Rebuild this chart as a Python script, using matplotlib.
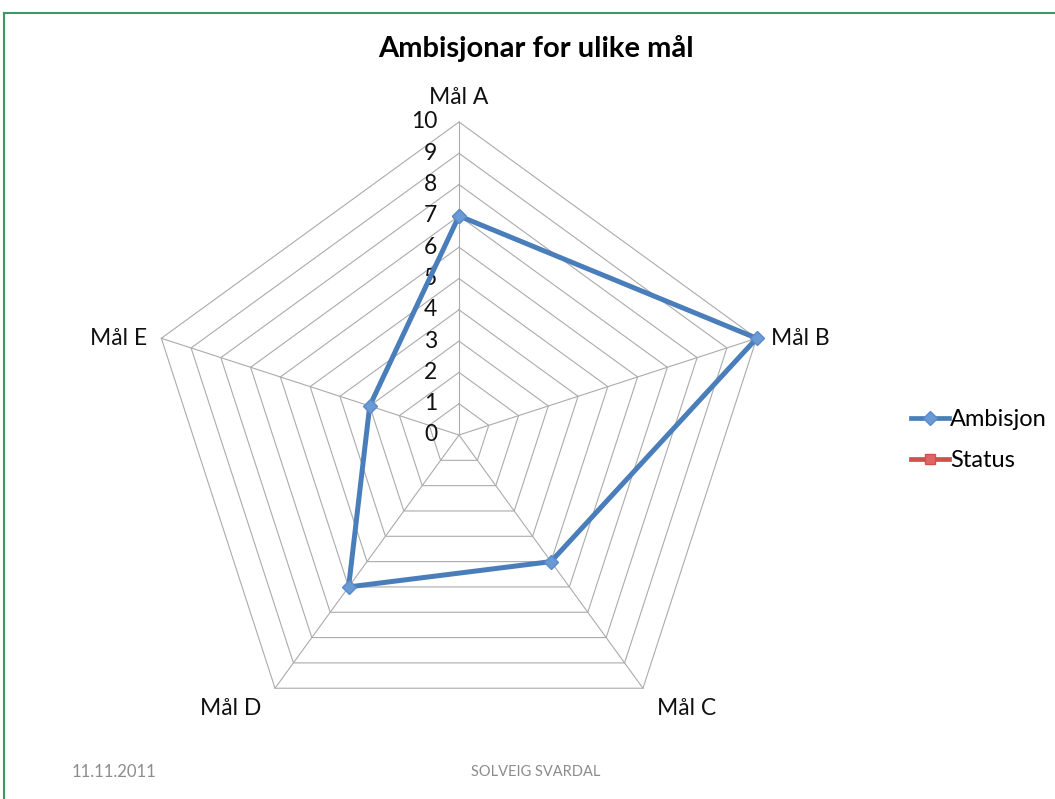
import numpy as np
import matplotlib
matplotlib.use("Agg")
import matplotlib.pyplot as plt
from matplotlib.lines import Line2D

categories = ["Mål A", "Mål B", "Mål C", "Mål D", "Mål E"]
ambisjon = [7, 10, 5, 6, 3]
status = []
ticks = list(range(0, 11))
title = "Ambisjonar for ulike mål"
footer_left = "11.11.2011"
footer_mid = "SOLVEIG SVARDAL"

plt.rcParams['font.family'] = ['Lato', 'DejaVu Sans']

W, H = 1055, 799
fig = plt.figure(figsize=(W / 100, H / 100), dpi=100)
fig.patch.set_facecolor('white')

scale = 31.3
cx, cy = 459, H - 435
half = 11.5
ax = fig.add_axes([(cx - half * scale) / W, (cy - half * scale) / H,
                   2 * half * scale / W, 2 * half * scale / H])
ax.set_xlim(-half, half)
ax.set_ylim(-half, half)
ax.axis('off')

n = len(categories)
angles = np.pi / 2 - np.arange(n) * 2 * np.pi / n

def to_xy(vals):
    v = np.asarray(vals, dtype=float)
    return v * np.cos(angles[:len(v)]), v * np.sin(angles[:len(v)])

grid_c = '#ababab'
for t in ticks[1:]:
    gx, gy = to_xy([t] * n)
    ax.plot(np.append(gx, gx[0]), np.append(gy, gy[0]), color=grid_c, lw=0.8, zorder=1)
for a in angles:
    ax.plot([0, ticks[-1] * np.cos(a)], [0, ticks[-1] * np.sin(a)], color=grid_c, lw=0.8, zorder=1)

for t in ticks:
    ax.text(-0.7, t, str(t), ha='right', va='center', fontsize=16.5, color='#111111')

lab_off = {0: (0, 0.45, 'center', 'bottom'),
           1: (0.45, 0, 'left', 'center'),
           2: (0.45, -0.3, 'left', 'top'),
           3: (-0.45, -0.3, 'right', 'top'),
           4: (-0.45, 0, 'right', 'center')}
for i, c in enumerate(categories):
    x = ticks[-1] * np.cos(angles[i])
    y = ticks[-1] * np.sin(angles[i])
    dx, dy, ha, va = lab_off[i]
    ax.text(x + dx, y + dy, c, ha=ha, va=va, fontsize=16.5, color='#111111')

blue = '#4a7ebb'
red = '#c0504d'
ax_x, ax_y = to_xy(ambisjon)
ax.plot(np.append(ax_x, ax_x[0]), np.append(ax_y, ax_y[0]), color=blue, lw=3.6,
        marker='D', markersize=7, markerfacecolor='#6a9ad6', markeredgecolor='#5b8bc8', zorder=3)
if status:
    sx, sy = to_xy(status)
    ax.plot(np.append(sx, sx[0]), np.append(sy, sy[0]), color=red, lw=3.6, marker='s')

handles = [Line2D([], [], color=blue, lw=3.4, marker='D', markersize=7,
                  markerfacecolor='#6a9ad6', markeredgecolor='#5b8bc8'),
           Line2D([], [], color='#d0504d', lw=3.4, marker='s', markersize=7,
                  markerfacecolor='#e06666', markeredgecolor='#d0504d')]
fig.legend(handles, ['Ambisjon', 'Status'], loc='center left',
           bbox_to_anchor=(899 / W, 1 - 440 / H), frameon=False, fontsize=17,
           handlelength=1.6, handletextpad=0.05, labelspacing=0.85, borderpad=0)

fig.text(536 / W, 1 - 48 / H, title, ha='center', va='center', fontsize=21, fontweight='bold')
fig.text(72 / W, 1 - 772 / H, footer_left, ha='left', va='center', fontsize=12, color='#8c8c8c')
fig.text(536 / W, 1 - 772 / H, footer_mid, ha='center', va='center', fontsize=10.5, color='#8c8c8c')

green = '#3a9a66'
fig.add_artist(Line2D([4 / W, 1], [1 - 13 / H, 1 - 13 / H], color=green, lw=1.5, transform=fig.transFigure))
fig.add_artist(Line2D([4 / W, 4 / W], [0, 1 - 13 / H], color=green, lw=1.5, transform=fig.transFigure))

fig.savefig('out.png', dpi=100)
